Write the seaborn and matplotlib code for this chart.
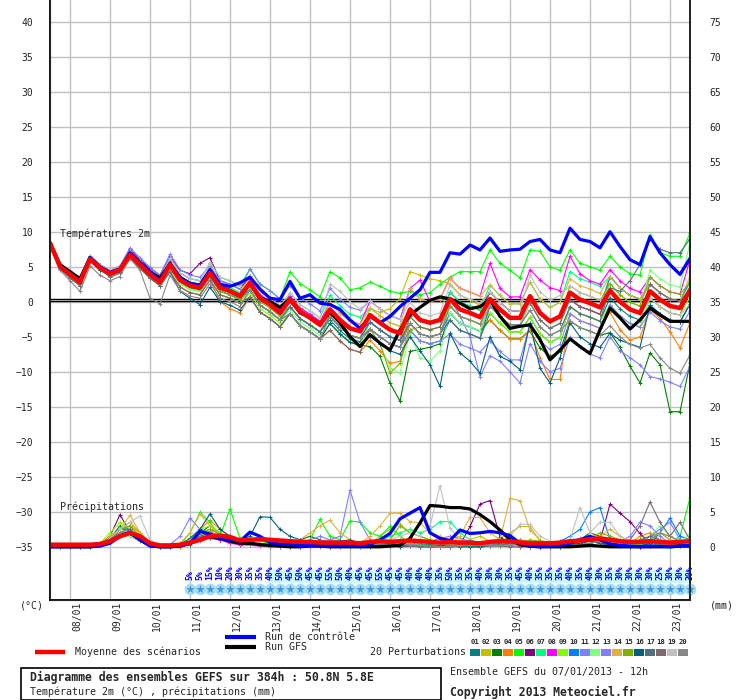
import matplotlib
matplotlib.use('Agg')
import matplotlib.pyplot as plt
import seaborn as sns
from matplotlib.lines import Line2D
from matplotlib.patches import Rectangle

# time steps every 6h from 07/01 12h to +384h
steps = list(range(65))
dates = ['08/01', '09/01', '10/01', '11/01', '12/01', '13/01', '14/01', '15/01',
         '16/01', '17/01', '18/01', '19/01', '20/01', '21/01', '22/01', '23/01']

# temperature 2m (°C)
t_mean = [8.4,5.0,3.9,2.8, 6.1,4.8,4.0,4.6, 6.7,5.3,3.9,2.8, 5.3,3.1,2.3,2.0, 4.1,2.0,1.5,0.8, 2.7,0.5,-0.4,-1.6, 0.3,-1.4,-2.3,-3.3, -1.1,-2.6,-3.8,-4.2, -1.9,-3.0,-4.0,-4.5, -1.1,-2.6,-3.0,-2.6, 0.4,-1.1,-1.6,-2.2, 0.4,-1.1,-2.3,-2.3, 0.8,-1.6,-2.8,-2.1, 1.3,0.3,-0.2,-0.8, 1.6,0.0,-1.1,-1.6, 1.5,0.3,-0.6,-0.9, 1.7]
t_ctrl = [8.4,5.1,4.0,3.0, 6.3,5.0,4.2,4.7, 7.0,5.6,4.3,3.1, 5.5,3.4,2.6,2.4, 4.6,2.5,2.2,2.7, 3.5,1.8,0.5,0.3, 2.9,0.5,1.0,-0.2, -0.4,-1.1,-2.6,-3.8, -2.1,-3.0,-2.1,-0.7, 0.5,1.7,4.2,4.2, 7.0,6.8,8.1,7.4, 9.1,7.2,7.4,7.5, 8.6,8.9,7.4,7.0, 10.5,8.9,8.6,7.7, 10.0,7.9,6.0,5.3, 9.3,7.0,5.3,3.9, 6.2]
t_gfs = [8.4,5.3,4.3,3.3, 6.3,4.9,4.1,4.6, 6.9,5.6,4.3,3.4, 5.4,3.5,2.6,2.2, 4.1,2.2,1.6,0.9, 2.6,0.6,0.0,-0.8, 0.4,-1.6,-2.2,-3.2, -1.5,-3.0,-5.0,-6.4, -4.7,-5.9,-6.9,-4.0, -1.9,-0.8,0.2,0.7, 0.4,-0.2,-1.0,-0.7, 0.3,-2.1,-3.8,-3.5, -3.3,-5.4,-8.3,-6.9, -5.3,-6.4,-7.4,-4.0, -0.9,-2.3,-3.9,-2.6, -0.9,-1.9,-2.8,-2.8, -2.8]

t01 = [8.4,4.9,3.8,2.7, 6.0,4.7,3.9,4.4, 6.6,5.1,3.7,2.6, 5.0,2.8,2.0,1.7, 3.6,1.5,1.0,0.3, 1.7,-0.5,-1.4,-2.6, -0.7,-2.4,-3.3,-4.3, -2.6,-4.1,-5.3,-5.7, -3.9,-5.0,-6.0,-6.5, -4.1,-5.6,-6.0,-5.6, -2.6,-4.1,-4.6,-5.2, -1.6,-3.1,-4.3,-4.3, -2.2,-4.6,-5.8,-5.1, -0.7,-1.7,-2.2,-2.8, 0.6,-1.0,-2.1,-2.6, -0.5,-1.7,-2.6,-2.9, -0.3]
t02 = [8.4,5.2,4.0,2.9, 6.3,5.0,4.2,4.8, 7.0,5.6,4.2,3.1, 5.3,3.1,2.3,2.0, 4.6,2.5,2.0,1.3, 3.7,1.5,0.6,-0.6, 0.3,-1.4,-2.3,-3.3, -2.1,-3.6,-4.8,-5.2, -1.0,-1.5,-1.0,0.5, 4.3,3.8,3.3,3.0, 2.6,1.0,0.2,-0.5, 1.4,-0.1,-1.3,-1.3, 0.8,-1.6,-2.8,-2.1, 0.3,-0.7,-1.2,-1.8, 3.6,2.0,0.9,0.4, 2.5,1.3,0.4,0.1, 1.7]
t03 = [8.4,5.0,3.8,2.7, 6.1,4.7,3.9,4.5, 6.4,5.0,3.6,2.5, 4.8,2.6,1.8,1.5, 3.1,1.0,0.5,-0.2, 1.7,-0.5,-1.4,-2.6, -1.7,-3.4,-4.3,-5.3, -3.1,-4.6,-5.8,-6.2, -6.4,-7.8,-11.6,-14.2, -7.1,-6.8,-6.5,-6.0, -1.6,-3.1,-3.6,-4.2, -2.6,-4.1,-5.3,-5.3, -4.2,-6.6,-7.8,-7.1, -2.7,-3.7,-4.2,-4.8, -4.4,-6.5,-9.2,-11.6, -7.3,-9.0,-15.7,-15.7, -8.8]
t04 = [8.4,5.1,4.0,2.9, 6.3,5.0,4.2,4.8, 6.2,4.8,3.4,2.3, 4.3,2.1,1.3,1.0, 3.1,0.0,-1.0,-1.6, 0.7,-1.5,-2.4,-3.6, -1.7,-3.4,-4.3,-5.3, -4.1,-5.6,-6.8,-7.2, -5.5,-7.0,-8.8,-8.5, -3.1,-4.6,-5.0,-4.6, -0.6,-2.1,-2.6,-3.2, -2.6,-4.1,-5.3,-5.3, -4.0,-8.0,-11.1,-11.1, -1.7,-2.7,-3.2,-3.8, -1.5,-4.0,-5.5,-5.0, -1.1,-2.4,-4.3,-6.6, -3.0]
t05 = [8.4,5.2,4.1,3.0, 6.4,5.1,4.3,4.9, 7.3,5.8,4.4,3.3, 6.3,4.1,3.3,3.0, 5.6,3.5,3.0,2.3, 4.7,2.5,1.6,0.4, 4.3,2.6,1.7,0.7, 4.3,3.4,1.7,2.0, 2.8,2.2,1.5,1.2, 1.5,1.0,1.3,2.5, 3.5,4.3,4.3,4.3, 7.4,5.5,4.5,3.4, 7.4,7.2,5.0,4.5, 7.4,5.5,5.0,4.5, 6.5,5.0,4.0,3.8, 9.6,7.0,6.5,6.5, 9.8]
t06 = [8.4,5.2,4.2,3.3, 6.6,5.3,4.5,5.1, 7.5,6.0,4.8,3.8, 6.5,4.5,4.0,5.5, 6.3,3.0,2.5,1.8, 3.7,1.5,0.6,-0.6, 0.8,-0.9,-1.8,-2.8, -1.1,-2.6,-3.8,-4.2, -2.9,-4.0,-5.0,-5.5, -1.1,-2.6,-3.0,-2.6, 1.4,-0.1,-0.6,-1.2, 1.4,-0.1,-1.3,-1.3, 0.8,-1.6,-2.8,-2.1, 0.3,-0.7,-1.2,-1.8, 1.6,0.0,-1.1,-1.6, 0.5,-0.7,-1.6,-1.9, 1.7]
t07 = [8.4,4.8,3.7,2.6, 5.9,4.6,3.8,4.4, 6.7,5.3,3.9,2.8, 5.8,3.6,2.8,2.5, 4.6,2.5,2.0,1.3, 2.7,0.5,-0.4,-1.6, 1.3,-0.4,-1.3,-2.3, 0.9,-0.6,-1.8,-2.2, -0.9,-2.0,-3.0,-3.5, -1.1,-2.6,-3.0,-2.6, 1.4,-0.1,-0.6,-1.2, 2.4,0.9,-0.3,-0.3, 2.8,0.4,-0.8,-0.1, 4.3,3.3,2.8,2.2, 3.6,2.0,0.9,0.4, 2.5,1.3,0.4,0.1, 2.7]
t08 = [8.4,5.3,4.1,2.8, 6.4,5.1,4.3,4.9, 6.9,5.5,4.1,3.0, 5.3,3.1,2.3,2.0, 4.1,2.0,1.5,0.8, 3.2,1.0,0.1,-1.1, 0.8,-0.9,-1.8,-2.8, -0.1,-1.6,-2.8,-3.2, 0.1,-1.0,-2.0,-2.5, 1.9,3.1,0.0,0.4, 3.4,1.9,1.4,0.8, 5.5,1.9,0.7,0.7, 4.6,3.1,2.0,1.6, 6.5,4.0,3.0,2.5, 4.6,3.0,1.9,1.4, 3.5,2.3,1.4,1.1, 6.0]
t09 = [8.4,5.0,3.6,2.5, 6.1,4.8,3.7,4.3, 6.4,5.0,3.6,2.5, 4.8,2.6,1.8,1.5, 3.1,1.0,0.5,-0.2, 1.2,-1.0,-1.9,-3.1, -1.7,-3.4,-4.3,-5.3, -3.1,-4.6,-5.8,-6.2, -2.9,-4.0,-5.0,-5.5, -2.1,-3.6,-4.0,-3.6, -0.6,-2.1,-2.6,-3.2, -1.6,-3.1,-4.3,-4.3, -2.2,-4.6,-5.8,-5.1, -0.7,-1.7,-2.2,-2.8, -0.4,-2.0,-3.1,-3.6, 0.5,-0.7,-1.6,-1.9, 0.7]
t10 = [8.4,4.8,3.7,2.6, 5.9,4.6,3.8,4.4, 6.7,5.3,3.9,2.8, 5.3,3.1,2.3,2.0, 3.6,1.5,1.0,0.3, 1.7,-0.5,-1.4,-2.6, -0.7,-2.4,-3.3,-4.3, -2.1,-3.6,-4.8,-5.2, -2.9,-4.0,-5.0,-5.5, -3.1,-4.6,-5.0,-4.6, -1.6,-3.1,-3.6,-4.2, -0.6,-2.1,-3.3,-3.3, -0.2,-2.6,-3.8,-3.1, 1.3,0.3,-0.2,-0.8, 3.6,2.0,0.9,0.4, 2.5,1.3,0.4,0.1, 3.0]
t11 = [8.4,5.3,4.3,3.3, 6.6,5.3,4.5,5.1, 7.7,6.3,4.9,3.8, 6.8,4.6,3.8,3.5, 5.1,3.0,2.5,1.8, 4.7,2.5,1.6,0.4, 2.3,0.6,-0.3,-1.3, 1.9,0.4,-0.8,-1.2, 0.1,-1.0,-2.0,-2.5, 1.9,0.4,0.0,0.4, 0.4,-2.0,-5.0,-10.7, -7.7,-8.5,-10.0,-11.6, -6.0,-8.5,-10.0,-9.5, -5.0,-6.5,-7.5,-8.0, -5.0,-7.0,-8.0,-9.0, -10.7,-11.0,-11.5,-12.1, -9.2]
t12 = [8.4,5.0,3.7,2.3, 5.9,4.6,3.8,4.4, 6.5,5.1,3.7,2.6, 4.8,2.6,1.8,1.5, 3.1,1.0,0.5,-0.2, 1.7,-0.5,-1.4,-2.6, -1.2,-2.9,-3.8,-4.8, -3.1,-4.6,-5.8,-6.2, -4.9,-6.0,-9.5,-10.2, -4.5,-8.0,-8.5,-7.0, -1.6,-3.1,-3.6,-4.2, -0.6,-2.1,-3.3,-3.3, -0.2,-2.6,-3.8,-3.1, 1.3,0.3,-0.2,-0.8, 2.6,1.0,-0.1,-0.6, 4.5,3.3,2.4,2.1, 8.5]
t13 = [8.4,5.3,4.4,3.3, 6.4,5.1,4.3,4.9, 7.2,5.8,4.4,3.3, 6.3,4.1,3.3,3.0, 4.1,2.0,1.5,0.8, 2.7,0.5,-0.4,-1.6, -0.7,-2.4,-3.3,-4.3, -2.1,-3.6,-4.8,-5.2, -3.9,-5.0,-6.0,-6.5, -4.1,-5.6,-6.0,-5.6, -4.6,-6.1,-6.6,-7.2, -5.6,-7.1,-8.3,-8.3, -3.2,-5.6,-6.8,-6.1, -1.7,-2.7,-3.2,-3.8, -0.4,-2.0,-3.1,-3.6, -1.5,-2.7,-3.6,-3.9, -1.3]
t14 = [8.4,5.0,3.4,2.3, 6.1,4.8,3.5,4.1, 6.2,4.8,3.4,2.3, 4.3,2.1,1.3,1.0, 3.1,1.0,0.5,-0.2, 2.7,0.5,-0.4,-1.6, 0.3,-1.4,-2.3,-3.3, -0.1,-1.6,-2.8,-3.2, -0.9,-2.0,-3.0,-3.5, 1.9,0.4,0.0,0.4, 3.4,1.9,1.4,0.8, 2.4,0.9,-0.3,-0.3, 2.8,0.4,-0.8,-0.1, 3.3,2.3,1.8,1.2, 3.6,2.0,0.9,0.4, 2.5,1.3,0.4,0.1, 3.7]
t15 = [8.4,5.0,3.9,2.8, 6.1,4.8,4.0,4.6, 6.7,5.3,3.9,2.8, 5.3,3.1,2.3,2.0, 3.6,1.5,1.0,0.3, 2.2,0.0,-0.9,-2.1, -0.7,-2.4,-3.3,-4.3, -2.1,-3.6,-4.8,-5.2, -3.9,-6.0,-10.2,-8.8, -4.0,-3.6,-4.0,-3.6, -0.6,-2.1,-2.6,-3.2, 0.4,-1.1,-2.3,-2.3, 0.8,-1.6,-2.8,-2.1, 2.3,1.3,0.8,0.2, 2.6,1.0,-0.1,-0.6, 3.5,2.3,1.4,1.1, 2.7]
t16 = [8.4,4.7,3.4,2.3, 5.8,4.5,3.7,4.3, 6.2,4.8,3.4,2.3, 4.3,1.5,0.5,-0.4, 2.1,0.0,-0.5,-1.2, 0.7,-1.5,-2.4,-3.6, -1.7,-3.4,-4.3,-5.3, -3.1,-4.6,-5.8,-6.2, -4.9,-6.0,-7.0,-7.5, -5.0,-7.0,-9.0,-12.1, -4.5,-7.3,-8.5,-10.2, -5.0,-7.8,-8.5,-9.7, -3.0,-9.5,-11.6,-8.0, -3.0,-5.0,-6.0,-6.5, -4.5,-5.5,-6.0,-6.5, -0.5,-1.7,-2.6,-2.9, -0.3]
t17 = [8.4,5.0,3.9,2.8, 6.1,4.8,4.0,4.6, 6.7,5.3,3.9,2.8, 5.8,3.6,2.8,2.5, 4.1,2.0,1.5,0.8, 1.7,-0.5,-1.4,-2.6, -0.7,-2.4,-3.3,-4.3, -2.1,-3.6,-4.8,-5.2, -2.9,-4.0,-5.0,-5.5, -3.1,-4.6,-5.0,-4.6, -2.6,-4.1,-4.6,-5.2, -0.6,-2.1,-3.3,-3.3, -1.2,-3.6,-4.8,-4.1, -0.7,-1.7,-2.2,-2.8, 2.0,1.5,3.0,5.3, 9.0,7.5,7.0,7.0, 9.0]
t18 = [8.4,5.0,3.4,2.3, 6.1,4.8,3.5,4.1, 6.2,4.8,3.4,2.3, 4.3,2.1,1.3,1.0, 3.1,1.0,0.5,-0.2, 0.7,-1.5,-2.4,-3.6, -1.7,-3.4,-4.3,-5.3, -4.1,-5.6,-6.8,-7.2, -3.9,-5.0,-6.0,-6.5, -2.1,-3.6,-4.0,-3.6, 0.4,-1.1,-1.6,-2.2, 1.4,-0.1,-1.3,-1.3, -0.2,-2.6,-3.8,-3.1, 0.3,-0.7,-1.2,-1.8, 1.6,0.0,-1.1,-1.6, 2.5,1.3,0.4,0.1, 1.7]
t19 = [8.4,5.5,4.4,3.3, 6.6,5.3,4.5,5.1, 7.2,5.8,4.4,3.3, 6.3,4.1,3.3,3.0, 5.6,3.5,3.0,2.3, 3.7,1.5,0.6,-0.6, 1.3,-0.4,-1.3,-2.3, 2.5,1.5,0.0,-1.0, 0.1,-1.0,-2.0,-2.5, -0.1,-1.6,-2.0,-1.6, 2.4,0.9,0.4,-0.2, 1.4,-0.1,-1.3,-1.3, 3.8,1.4,0.2,0.9, 2.3,1.3,0.8,0.2, 1.6,0.0,-1.1,-1.6, 0.5,-0.7,-1.6,-1.9, -0.3]
t20 = [8.4,4.5,3.0,1.5, 5.1,3.8,3.0,3.6, 6.2,4.5,0.5,-0.3, 3.8,1.6,0.8,0.5, 2.6,0.5,0.0,-0.7, 1.7,-0.5,-1.4,-2.6, -1.7,-3.4,-4.3,-5.3, -2.1,-3.6,-4.8,-5.2, -3.9,-5.0,-6.0,-6.5, -3.1,-4.6,-5.0,-4.6, -0.6,-2.1,-2.6,-3.2, -0.6,-2.1,-3.3,-3.3, -1.2,-3.6,-4.8,-4.1, -2.7,-3.7,-4.2,-4.8, -3.4,-5.0,-6.1,-6.6, -6.1,-8.0,-9.5,-10.2, -7.6]

# precipitation (mm / 6h)
p_mean = [0.3,0.3,0.3,0.3, 0.3,0.4,0.8,1.5, 2.0,1.5,0.5,0.2, 0.2,0.3,0.6,1.0, 1.5,1.6,1.4,0.9, 1.0,1.1,1.0,0.9, 0.8,0.7,0.7,0.6, 0.6,0.6,0.6,0.5, 0.7,0.8,0.7,0.8, 0.9,0.8,0.7,0.6, 0.7,0.6,0.6,0.5, 0.7,0.8,0.8,0.6, 0.5,0.5,0.5,0.6, 0.8,0.9,1.1,1.2, 1.0,0.8,0.7,0.7, 0.8,0.7,0.6,0.7, 0.8]
p_ctrl = [0,0,0,0, 0,0.1,0.5,1.5, 2.0,1.0,0.1,0, 0,0.1,0.5,2.2, 1.8,1.2,1.0,0.8, 2.1,1.5,0.6,0.4, 0.3,0.2,0.2,0.1, 0.1,0.2,0.1,0.1, 0.3,1.0,1.9,4.0, 4.8,5.6,2.0,1.2, 0.9,2.4,1.9,2.0, 2.2,2.0,1.6,0.5, 0.1,0,0.1,0.2, 0.5,1.0,1.5,1.0, 0.4,0.2,0.1,0, 0.1,0.1,0,0.1, 0.2]
p_gfs = [0,0,0,0, 0,0.2,0.8,1.5, 2.0,1.0,0.2,0, 0,0.1,0.5,1.0, 1.5,1.2,0.8,0.5, 0.5,0.3,0.2,0.1, 0,0,0.1,0.1, 0,0,0,0, 0,0,0.1,0.2, 1.2,3.4,5.9,5.8, 5.6,5.6,5.4,4.6, 3.6,2.4,1.0,0.3, 0.1,0,0,0, 0,0.1,0.2,0.1, 0,0,0,0, 0,0,0,0.1, 0.1]

p01 = [0,0,0,0, 0,0.2,1.0,2.0, 2.5,1.0,0.2,0, 0,0,0.3,1.0, 2.0,1.5,1.0,0.5, 0.8,0.5,0.3,0.2, 0.1,0,0.1,0.3, 0.5,0.3,0.2,0, 0,0.3,0.5,0.8, 0.5,0.3,0.2,0, 0,0.2,0.5,0.3, 0.2,0.5,1.0,0.8, 0.3,0.1,0,0, 0.2,0.5,1.5,1.0, 0.3,0.1,0,0, 0.5,1.0,0.5,0.2, 0]
p02 = [0,0,0,0, 0,0.3,1.5,2.5, 3.0,2.0,0.5,0, 0,0,0.5,0.8, 1.5,1.0,0.6,0.3, 0.5,0.4,0.3,0.2, 0.2,0.1,0,0, 0,0.2,0.3,0.2, 0.5,1.5,2.5,3.3, 2.0,1.5,1.0,0.5, 0.3,0.5,1.0,1.5, 0.8,1.2,2.0,2.9, 2.9,0.8,0.2,0, 0.5,1.0,1.5,1.2, 0.5,0.8,0.5,0.3, 0.5,0.3,0.2,0.1, 0.2]
p03 = [0,0,0,0, 0,0.5,1.2,3.0, 2.0,1.2,0.3,0, 0,0.2,1.0,2.0, 3.0,2.0,1.0,0.6, 1.2,1.0,0.5,0.3, 0.5,1.0,1.5,1.0, 0.5,0.3,0.1,0, 0.2,0.5,0.3,0.2, 0.3,0.5,1.0,0.5, 0.2,0.1,0,0, 0.1,0.3,0.5,1.0, 0.5,0.2,0.1,0, 0.5,1.0,2.0,1.5, 0.5,0.2,0.1,0, 0.1,0.2,0.5,0.3, 0.1]
p04 = [0,0,0,0, 0,0.5,1.5,2.5, 3.5,2.0,0.5,0, 0,0.3,1.0,2.5, 3.8,2.5,1.5,0.8, 0.5,0.3,0.2,0.1, 0.1,0.2,0.3,0.2, 0.1,0,0,0, 0.3,0.5,0.8,0.5, 0.3,0.2,0.1,0, 0.2,0.5,0.8,0.5, 0.3,0.2,0.5,1.0, 0.8,0.5,0.3,0.2, 0.5,1.0,1.5,0.8, 0.3,0.2,0.5,1.5, 2.0,1.0,0.5,0.2, 0.3]
p05 = [0,0,0,0, 0,0.3,1.0,2.0, 3.0,1.5,0.2,0, 0,0.2,2.0,4.9, 3.5,1.5,5.4,1.2, 1.0,0.8,0.5,0.3, 0.2,0.1,1.0,3.9, 1.5,1.0,3.7,3.5, 2.0,1.5,2.9,1.5, 0.5,0.3,0.2,0.1, 0,0,0.1,0.2, 0.5,0.3,0.2,0.1, 0,0,0,0, 0.3,0.5,0.8,0.5, 0.2,0.3,0.5,1.0, 0.8,0.5,0.5,1.5, 7.0]
p06 = [0,0,0,0, 0,0.3,1.5,4.6, 2.0,1.0,0.2,0, 0,0.2,0.8,1.5, 1.2,1.0,0.8,0.5, 0.3,0.2,0.1,0, 0,0.1,0.2,0.1, 0,0,0,0.1, 0.2,0.3,0.5,0.3, 0.2,0.1,0,0, 0.1,0.3,2.9,6.1, 6.6,1.4,0.5,0.2, 0.1,0,0,0, 0.2,0.3,0.5,0.8, 6.1,4.8,3.6,1.9, 0.5,0.3,0.2,0.1, 0.1]
p07 = [0,0,0,0, 0,0.3,1.2,2.5, 2.5,1.0,0.2,0, 0,0.2,1.0,2.0, 2.5,2.0,1.0,0.5, 0.5,0.3,0.2,0.1, 0,0.1,0.3,0.5, 0.3,0.2,0.1,0, 0.5,1.0,1.5,2.0, 2.5,2.0,2.5,3.6, 3.6,2.0,1.0,0.5, 0.3,0.2,0.1,0, 0.1,0.2,0.3,0.5, 0.8,1.0,0.8,0.5, 0.3,0.2,0.3,0.5, 0.3,0.2,0.1,0.5, 1.0]
p08 = [0,0,0,0, 0,0.2,0.8,1.5, 1.5,0.8,0.1,0, 0,0.1,0.5,1.0, 1.5,1.0,0.5,0.3, 0.2,0.1,0,0, 0,0,0.1,0.2, 0.1,0,0,0, 0.1,0.2,0.3,0.2, 0.1,0,0,0, 0,0.1,0.2,0.1, 0.2,0.3,0.2,0.1, 0,0,0,0.1, 0.3,0.5,0.8,0.5, 0.3,0.2,0.1,0, 0.1,0.2,0.3,0.5, 0.5]
p09 = [0,0,0,0, 0,0.5,2.0,3.5, 2.5,1.2,0.3,0, 0,0.3,1.2,2.5, 3.0,2.0,1.0,0.5, 0.5,0.3,0.2,0.1, 0.1,0.2,0.5,0.3, 0.2,0.1,0,0, 0.2,0.5,0.8,1.0, 0.8,0.5,0.3,0.2, 0.1,0,0,0.1, 0.2,0.3,0.2,0.1, 0.2,0.3,0.5,0.3, 0.5,0.8,1.0,0.8, 0.5,0.3,0.2,0.3, 0.5,0.3,0.2,0.1, 0.2]
p10 = [0,0,0,0, 0,0.3,1.0,2.0, 2.0,1.0,0.2,0, 0,0.2,0.8,1.5, 2.0,1.5,0.8,0.5, 0.5,0.3,0.2,0.1, 0,0.1,0.2,0.3, 0.2,0.1,0,0, 0.2,0.3,0.5,0.3, 0.2,0.1,0.1,0, 0,0.1,0.2,0.3, 0.2,0.1,0.2,0.3, 0.2,0.1,0.3,0.8, 1.5,2.5,5.0,5.6, 1.0,0.5,0.3,0.2, 0.5,2.0,4.1,1.5, 1.0]
p11 = [0,0,0,0, 0,0.3,1.0,2.0, 1.8,1.0,0.2,0, 0.3,1.5,4.1,2.5, 2.0,1.5,1.0,0.8, 0.8,0.5,0.3,0.2, 0.3,0.5,1.0,1.5, 1.0,1.5,8.1,3.5, 1.0,0.5,0.3,0.2, 0.3,0.5,0.8,0.5, 0.3,0.2,0.1,0, 0.1,0.2,0.3,0.2, 0.5,0.8,0.5,0.3, 0.2,0.3,0.5,0.8, 0.5,0.8,1.5,3.5, 3.0,1.5,0.5,0.3, 0.5]
p12 = [0,0,0,0, 0,0.2,0.8,1.5, 1.5,0.8,0.2,0, 0,0.2,0.8,1.5, 2.0,1.5,1.0,0.5, 0.3,0.2,0.1,0, 0,0.1,0.2,0.3, 0.2,0.1,0.1,0, 0.2,0.3,0.5,0.5, 0.3,0.2,0.1,0, 0.1,0.2,0.3,0.2, 0.1,0,0.1,0.2, 0.3,0.2,0.1,0.1, 0.5,1.0,1.5,1.2, 0.8,0.5,0.3,0.5, 1.5,3.0,1.5,0.5, 2.0]
p13 = [0,0,0,0, 0,0.2,1.0,2.0, 2.5,1.2,0.2,0, 0,0.3,1.0,2.0, 2.2,1.5,0.8,0.5, 0.3,0.2,0.1,0, 0,0.2,0.5,0.8, 1.0,0.8,0.5,0.3, 0.5,0.8,1.0,0.5, 0.3,0.5,0.8,1.2, 1.5,1.2,0.8,0.5, 0.3,0.2,0.1,0, 0.1,0.2,0.3,0.5, 0.8,1.2,1.5,1.0, 0.5,0.3,0.5,0.8, 1.5,2.5,3.5,1.0, 0.5]
p14 = [0,0,0,0, 0,0.3,1.5,2.5, 4.5,2.0,0.3,0, 0,0.5,2.0,4.7, 3.0,1.5,0.8,0.5, 0.8,0.5,0.3,0.2, 0.5,1.0,2.0,3.0, 3.8,2.0,1.0,0.5, 1.5,3.0,4.8,4.8, 3.6,3.4,2.0,1.5, 0.5,1.5,4.2,4.2, 2.0,1.0,6.9,6.6, 2.4,1.0,0.5,0.3, 0.5,0.8,1.0,1.5, 2.5,1.5,0.8,0.5, 1.0,2.0,1.5,0.8, 0.5]
p15 = [0,0,0,0, 0,0.3,1.2,2.5, 3.0,1.5,0.3,0, 0,0.3,1.0,2.0, 2.5,1.8,1.0,0.5, 0.5,0.3,0.2,0.1, 0.1,0.2,0.3,0.2, 0.1,0,0,0, 0.3,0.5,1.0,3.0, 2.0,1.5,1.0,0.5, 0.3,0.2,0.1,0, 0.1,0.2,0.3,0.5, 1.0,0.8,0.5,0.3, 0.5,0.8,1.2,2.0, 1.5,1.0,0.5,0.3, 1.5,2.0,1.0,0.5, 0.3]
p16 = [0,0,0,0, 0,0.3,1.0,2.0, 2.0,1.0,0.3,0, 0,0.3,1.2,2.5, 4.7,2.5,1.5,1.0, 1.5,4.3,4.2,2.5, 1.5,1.0,0.8,0.5, 0.5,0.8,1.0,0.5, 0.3,0.2,0.1,0, 0.1,0.2,0.3,0.2, 0.1,0,0,0, 0.1,0.2,0.5,0.3, 0.2,0.1,0,0, 0.3,0.5,0.8,0.5, 0.3,0.2,0.1,0.1, 0.5,0.8,0.5,0.3, 0.2]
p17 = [0,0,0,0, 0,0.3,1.0,2.5, 2.5,1.2,0.3,0, 0,0.2,0.8,1.5, 2.0,1.5,1.0,0.5, 0.5,0.3,0.2,0.1, 0.1,0.1,0.2,0.3, 0.2,0.1,0,0, 0.2,0.3,0.5,0.3, 0.2,0.1,0.1,0, 0.1,0.2,0.3,0.2, 0.2,0.3,0.5,0.3, 0.2,0.1,0.1,0.2, 0.5,0.8,1.0,0.8, 0.5,0.3,0.5,1.0, 1.5,1.0,0.5,0.3, 0.5]
p18 = [0,0,0,0, 0,0.3,1.2,2.0, 2.0,1.0,0.2,0, 0,0.2,0.8,1.5, 1.5,1.2,0.8,0.5, 0.3,0.2,0.1,0, 0,0.1,0.2,0.1, 0,0,0,0, 0.1,0.2,0.3,0.2, 0.1,0,0,0, 0,0.1,0.2,0.3, 0.2,0.1,0,0, 0,0.1,0.2,0.3, 0.5,0.8,1.0,0.8, 0.5,0.3,1.0,3.0, 6.4,3.5,1.5,3.5, 1.0]
p19 = [0,0,0,0, 0,0.3,1.2,2.5, 3.5,4.4,1.0,0.2, 0,0.2,1.0,2.0, 2.0,1.5,1.0,0.5, 0.3,0.2,0.1,0, 0.1,0.2,0.3,0.2, 0.1,0,0,0, 0.3,0.5,1.0,1.5, 2.0,1.5,3.0,8.7, 2.7,1.0,0.5,0.3, 0.5,0.8,1.5,3.2, 3.2,1.5,0.8,0.5, 1.0,5.6,2.0,3.5, 3.5,1.5,0.8,0.5, 0.8,1.0,0.8,0.5, 0.5]
p20 = [0,0,0,0, 0,0.2,1.0,2.0, 2.0,1.0,0.2,0, 0,0.2,0.8,1.8, 2.0,1.5,1.0,0.5, 0.3,0.2,0.1,0, 0,0.1,0.2,0.1, 0.1,0.2,0.3,0.2, 0.3,0.5,0.8,0.5, 0.3,0.2,0.1,0, 0.1,0.2,0.3,0.2, 0.1,0.2,0.3,0.3, 0.2,0.1,0,0, 0.2,0.3,0.5,0.8, 0.5,0.3,0.2,0.5, 1.0,2.0,1.5,0.8, 0.5]

# snow probability from step 14 on
snow_pct = [5,5,15,10,20,30,35,35,40,50,45,50,45,45,55,50,40,45,45,55,45,45,40,40,40,
            35,50,35,35,40,30,30,35,45,40,35,35,35,40,35,40,30,35,30,30,30,30,25,30,30,30]

members = ['%02d' % k for k in range(1, 21)]
member_colors = ['#008080', '#c0c000', '#008000', '#ff8000', '#00ff00', '#800080', '#00ff80',
                 '#ff00ff', '#80ff00', '#0080ff', '#8080ff', '#80ff80', '#8080ff', '#e0b040',
                 '#80b000', '#006080', '#507080', '#806870', '#c0c0c0', '#888888']
temps = [t01, t02, t03, t04, t05, t06, t07, t08, t09, t10, t11, t12, t13, t14, t15, t16, t17, t18, t19, t20]
precs = [p01, p02, p03, p04, p05, p06, p07, p08, p09, p10, p11, p12, p13, p14, p15, p16, p17, p18, p19, p20]

bad = [(n, len(s)) for n, s in enumerate(temps + precs + [t_mean, t_ctrl, t_gfs, p_mean, p_ctrl, p_gfs]) if len(s) != 65]
assert not bad, bad

sns.set_style('white')
plt.rcParams['font.family'] = ['DejaVu Sans Mono']

W, H = 740, 700
fig = plt.figure(figsize=(W / 100, H / 100), dpi=100)
ax = fig.add_axes([50 / W, 100 / H, 640 / W, 600 / H])
ax.set_xlim(0, 64)
ax.set_ylim(-42.6, 43.1)
ax.set_yticks(range(-35, 41, 5))
ax.set_xticks(range(2, 64, 4))
ax.set_xticklabels([])
ax.grid(True, color='#c0c0c0', lw=1)
ax.set_axisbelow(True)
ax.tick_params(axis='y', length=0, pad=12, labelsize=7)
ax.tick_params(axis='x', length=0)
for s in ['left', 'right', 'bottom']:
    ax.spines[s].set_color('black')
    ax.spines[s].set_linewidth(1.3)
ax.spines['top'].set_visible(False)

ax2 = ax.twinx()
ax2.set_ylim(-42.6 + 35, 43.1 + 35)
ax2.set_yticks(range(0, 76, 5))
ax2.tick_params(axis='y', length=0, pad=14, labelsize=7)
ax2.spines['top'].set_visible(False)
ax2.spines['right'].set_linewidth(1.3)

# 0°C line
ax.axhline(0.43, color='black', lw=1, zorder=1.5)
ax.axhline(0.1, color='black', lw=1, zorder=1.5)

# members
for m, c, t, p in zip(members, member_colors, temps, precs):
    sns.lineplot(x=steps, y=t, color=c, lw=0.8, marker='+', ms=3.5, mew=0.7, mec=c, ax=ax)
    sns.lineplot(x=steps, y=p, color=c, lw=0.8, marker='+', ms=3.5, mew=0.7, mec=c, ax=ax2)

sns.lineplot(x=steps, y=t_gfs, color='black', lw=2.3, ax=ax)
sns.lineplot(x=steps, y=t_ctrl, color='#0000ff', lw=2.3, ax=ax)
sns.lineplot(x=steps, y=t_mean, color='#ff0000', lw=3.2, ax=ax)
sns.lineplot(x=steps, y=p_gfs, color='black', lw=2.3, ax=ax2)
sns.lineplot(x=steps, y=p_ctrl, color='#0000ff', lw=2.3, ax=ax2)
sns.lineplot(x=steps, y=p_mean, color='#ff0000', lw=3.2, ax=ax2)
ax2.set_ylabel('')
ax.set_xlabel('')

ax.text(1, 9.7, 'Températures 2m', fontsize=7.2, va='center')
ax.text(1, -29.3, 'Précipitations', fontsize=7.2, va='center')

# snow band
snow_x = list(range(14, 65))
ax.fill_between([21.7, 64], -40.2, -38.3, color='#c8ffff', lw=0, zorder=1.6)
for x, v in zip(snow_x, snow_pct):
    ax.text(x, -39.8, '%d%%' % v, rotation=90, ha='center', va='bottom',
            color='#0000ff', fontsize=5.9, fontweight='bold', zorder=4)
ax.scatter(snow_x, [-41.0] * len(snow_x), s=70, marker='o', color='#a8dcf5', lw=0,
           zorder=3, clip_on=False)
ax.scatter(snow_x, [-41.0] * len(snow_x), s=42, marker='*', color='#3c9ad8', lw=0,
           zorder=3.5, clip_on=False)

for k, d in enumerate(dates):
    ax.text(2 + 4 * k + 0.7, -42.9, d, rotation=90, ha='center', va='top',
            fontsize=7, clip_on=False)


def ftext(x, y, s, **kw):
    fig.text(x / W, 1 - y / H, s, va='center', **kw)


def fline(x1, x2, y, color, lw):
    fig.add_artist(Line2D([x1 / W, x2 / W], [1 - y / H, 1 - y / H], color=color, lw=lw,
                          transform=fig.transFigure, solid_capstyle='butt'))


ftext(20, 606, '(°C)', fontsize=7.2)
ftext(710, 606, '(mm)', fontsize=7.2)

fline(35, 65, 652, '#ff0000', 3.2)
ftext(75, 652, 'Moyenne des scénarios', fontsize=7.2)
fline(225, 256, 637, '#0000ff', 3)
ftext(265, 637, 'Run de contrôle', fontsize=7.2)
fline(225, 256, 647, 'black', 3)
ftext(265, 647, 'Run GFS', fontsize=7.2)
ftext(370, 652, '20 Perturbations', fontsize=7.2)
for k, (m, c) in enumerate(zip(members, member_colors)):
    x0 = 470 + k * 10.95
    fig.add_artist(Rectangle((x0 / W, 1 - 656 / H), 10 / W, 7 / H, color=c,
                             transform=fig.transFigure, lw=0))
    ftext(x0 + 5, 642, m, fontsize=5.2, fontweight='bold', ha='center')

fig.add_artist(Rectangle((20.5 / W, 1 - 699.5 / H), 420 / W, 32 / H, fill=False,
                         ec='black', lw=1.2, transform=fig.transFigure))
ftext(30, 677, 'Diagramme des ensembles GEFS sur 384h : 50.8N 5.8E', fontsize=8.3,
      fontweight='bold')
ftext(30, 692, 'Température 2m (°C) , précipitations (mm)', fontsize=7.2)
ftext(450, 672, 'Ensemble GEFS du 07/01/2013 - 12h', fontsize=7.2)
ftext(450, 692, 'Copyright 2013 Meteociel.fr', fontsize=8.3, fontweight='bold')

fig.savefig('out.png', dpi=100)
